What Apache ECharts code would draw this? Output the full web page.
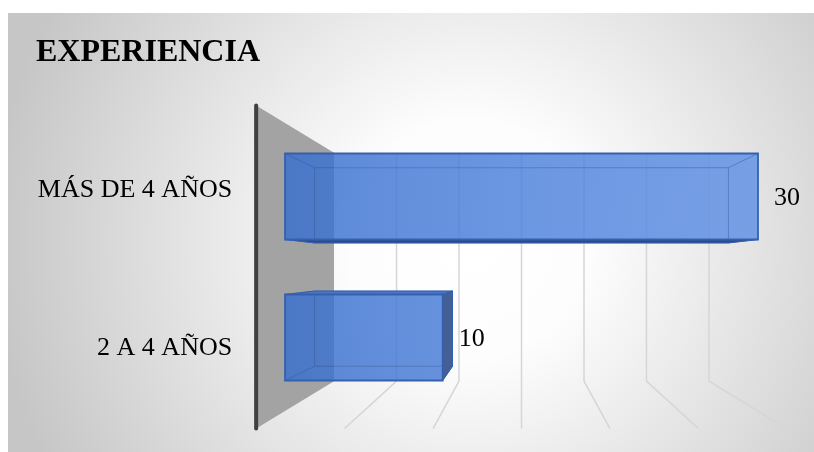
<!DOCTYPE html>
<html><head><meta charset="utf-8">
<script src="https://cdn.jsdelivr.net/npm/echarts@6/dist/echarts.min.js"></script>
<style>html,body{margin:0;padding:0;background:#fff}#chart{width:814px;height:452px}</style>
</head><body><div id="chart"></div>
<script>
// ---- data ----
const chartTitle = 'EXPERIENCIA';
const categories = ['2 A 4 AÑOS', 'MÁS DE 4 AÑOS'];
const values = [10, 30];
const xTicks = [0, 5, 10, 15, 20, 25, 30];

// ---- pseudo 3D depth factors (relative to the bar front plane) ----
const S_BACK = 0.875, S_WALL = 0.7927, S_FRONT = 1.122, PAD = 3;
const FONT = '"Liberation Serif","Times New Roman",serif';
function proj(p, vp, s) { return [vp[0] + s * (p[0] - vp[0]), vp[1] + s * (p[1] - vp[1])]; }
function poly(points, style, z2) { return { type: 'polygon', shape: { points }, style, z2: z2 || 0 }; }
function line(a, b, style, z2) { return { type: 'line', shape: { x1: a[0], y1: a[1], x2: b[0], y2: b[1] }, style, z2: z2 || 0 }; }

function renderWall(params, api) {
  if (params.dataIndex !== 0) return null;
  const cs = params.coordSys;
  const vp = [cs.x + cs.width / 2, cs.y + cs.height / 2];
  const top = cs.y - PAD, bot = cs.y + cs.height + PAD;
  const children = [];
  const x0 = api.coord([xTicks[0], 0])[0];
  // left side wall
  children.push(poly([proj([x0, top], vp, S_FRONT), proj([x0, top], vp, S_WALL),
                      proj([x0, bot], vp, S_WALL), proj([x0, bot], vp, S_FRONT)],
                     { fill: '#a3a3a3' }, 1));
  // grid lines on back wall and floor
  const gl = { stroke: '#d6d6d6', lineWidth: 1.5 };
  xTicks.forEach(function (t, i) {
    if (i === 0) return;
    const x = api.coord([t, 0])[0];
    const bt = proj([x, top], vp, S_WALL), bb = proj([x, bot], vp, S_WALL), fb = proj([x, bot], vp, S_FRONT);
    children.push(line(bt, bb, gl, 2));
    children.push(line(bb, fb, gl, 2));
  });
  // front edge of side wall (vertical axis line)
  children.push(line(proj([x0, top], vp, S_FRONT), proj([x0, bot], vp, S_FRONT),
                     { stroke: '#404040', lineWidth: 4, lineCap: 'round' }, 3));
  return { type: 'group', children };
}

function renderBar(params, api) {
  const cs = params.coordSys;
  const vp = [cs.x + cs.width / 2, cs.y + cs.height / 2];
  const v = api.value(0), c = api.value(1);
  const p0 = api.coord([0, c]), p1 = api.coord([v, c]);
  const h = api.size([0, 1])[1] * 0.61;
  const L = p0[0], R = p1[0], T = p0[1] - h / 2, B = p0[1] + h / 2;
  const F = { tl: [L, T], tr: [R, T], br: [R, B], bl: [L, B] };
  const K = {};
  Object.keys(F).forEach(function (k) { K[k] = proj(F[k], vp, S_BACK); });
  const grad = new echarts.graphic.LinearGradient(cs.x, 0, cs.x + cs.width, 0,
    [{ offset: 0, color: '#386fce' }, { offset: 1, color: '#5e90e6' }], true);
  const A = 0.82;
  const ch = [];
  const outB = B < vp[1], outT = T > vp[1], outR = R < vp[0];
  // back face + inner faces (translucent)
  const inner = [[K.tl, K.tr, K.br, K.bl], [F.tl, K.tl, K.bl, F.bl]];
  if (!outT) inner.push([F.tl, F.tr, K.tr, K.tl]);
  if (!outB) inner.push([F.bl, F.br, K.br, K.bl]);
  if (!outR) inner.push([F.tr, K.tr, K.br, F.br]);
  inner.forEach(function (pts) { ch.push(poly(pts, { fill: grad, opacity: A }, 10)); });
  // back edges and connectors
  const eg = { stroke: 'rgba(40,80,160,0.5)', lineWidth: 1 };
  ch.push({ type: 'polygon', shape: { points: [K.tl, K.tr, K.br, K.bl] }, style: { fill: null, stroke: eg.stroke, lineWidth: 1 }, z2: 12 });
  ['tl', 'tr', 'br', 'bl'].forEach(function (k) { ch.push(line(F[k], K[k], eg, 12)); });
  // outside faces
  const os = { stroke: '#3560b0', lineWidth: 1 };
  if (outB) ch.push(poly([F.bl, F.br, K.br, K.bl], Object.assign({ fill: '#2c4a84' }, os), 13));
  if (outT) ch.push(poly([F.tl, F.tr, K.tr, K.tl], Object.assign({ fill: '#4a76c4' }, os), 13));
  if (outR) ch.push(poly([F.tr, K.tr, K.br, F.br], Object.assign({ fill: '#435f95' }, os), 13));
  // front face outline
  ch.push({ type: 'rect', shape: { x: L, y: T, width: R - L, height: B - T },
            style: { fill: null, stroke: '#3560b0', lineWidth: 1.8 }, z2: 14 });
  // value label
  ch.push({ type: 'text', z2: 15, style: { x: R + 29, y: p0[1] + 2, text: String(v), fill: '#000',
            fontFamily: FONT, fontSize: 26, align: 'center', verticalAlign: 'middle' } });
  // category label (on the front plane)
  const fp = proj(p0, vp, S_FRONT);
  ch.push({ type: 'text', z2: 15, style: { x: fp[0] - 24, y: fp[1] + 2, text: categories[c], fill: '#000',
            fontFamily: FONT, fontSize: 26, align: 'right', verticalAlign: 'middle' } });
  return { type: 'group', children: ch };
}

const chart = echarts.init(document.getElementById('chart'), null, { renderer: 'canvas' });
chart.setOption({
  backgroundColor: '#ffffff',
  animation: false,
  title: {
    text: chartTitle, left: 36, top: 37, padding: 0,
    textStyle: { fontFamily: FONT, fontSize: 32, fontWeight: 'bold', color: '#000', lineHeight: 32 }
  },
  graphic: [{
    type: 'rect', left: 8, top: 13, z: -10, silent: true,
    shape: { x: 0, y: 0, width: 806, height: 439 },
    style: { fill: new echarts.graphic.RadialGradient(462, 227, 480,
      [{ offset: 0, color: '#ffffff' }, { offset: 0.25, color: '#fdfdfd' }, { offset: 1, color: '#c6c6c6' }], true) }
  }],
  grid: { left: 285, right: 56, top: 126, bottom: 44 },
  xAxis: { type: 'value', min: 0, max: 30, interval: 5, show: false },
  yAxis: { type: 'category', data: categories, show: false },
  series: [
    { type: 'custom', renderItem: renderWall, data: [[0, 0]], encode: { x: 0, y: 1 }, z: 1, silent: true, clip: false },
    { type: 'custom', renderItem: renderBar, data: values.map(function (v, i) { return [v, i]; }),
      encode: { x: 0, y: 1 }, z: 5, silent: true, clip: false }
  ]
});
</script>
</body></html>
